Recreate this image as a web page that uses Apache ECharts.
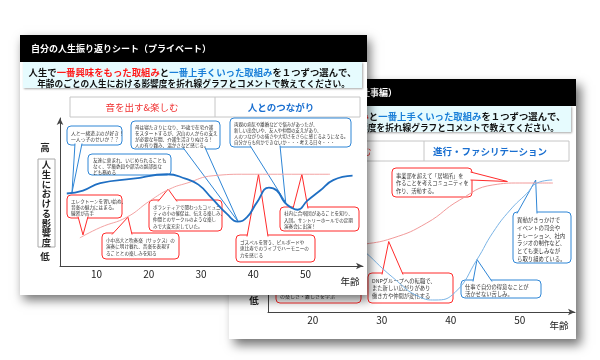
<!DOCTYPE html>
<html><head><meta charset="utf-8">
<script src="https://cdn.jsdelivr.net/npm/echarts@6/dist/echarts.min.js"></script>
<style>html,body{margin:0;padding:0;background:#fff}#c{width:600px;height:360px}</style>
</head><body><div id="c"></div>
<script>
const FONT = '"Noto Sans CJK JP", "Noto Sans", sans-serif';
// ---- front sheet (private) ----
const frontBlueAges   = [4.3, 7.4, 10.7, 17, 23.5, 27, 29.5, 32, 35, 37, 38.8, 40.7, 43, 44.5, 46, 47.5, 48.5, 50.3, 52.8, 55.3, 59];
const frontBlueValues = [49, 51, 56, 59, 62, 59, 55, 46, 35, 30, 33, 43, 53, 51, 43, 39, 38, 44, 51, 58, 61];
const frontRedAges    = [6.8, 10.7, 15.8, 20.2, 24, 27.3, 32.3, 38.8, 54.7];
const frontRedValues  = [19, 26, 33, 44, 52, 56, 61, 62, 62];
const frontTicks = [10, 20, 30, 40, 50];
// ---- back sheet (work) ----
const backBlueAges   = [24, 26.8, 31.6, 35.5, 37.7, 40.6, 43.8, 46.1, 48.6, 51, 52.5, 54.7];
const backBlueValues = [52, 43, 23, 10, 8, 13, 35, 53, 68, 79, 86, 88];
const backRedAges    = [24, 26.8, 31.6, 36.5, 41.3, 46.1, 50, 54.8];
const backRedValues  = [43, 44.7, 49.3, 59.3, 74.7, 84.7, 86, 86];
const backTicks = [20, 30, 40, 50];

const zip = (a, b) => a.map((x, i) => [x, b[i]]);
const RED = '#ff2b2b', BLUE = '#2f86d6';

const chart = echarts.init(document.getElementById('c'), null, {width: 600, height: 360});

function xAx(grid, min, max, ticks, z) {
  return {gridIndex: grid, type: 'value', min, max, z,
    axisLine: {show: true, symbol: ['none', 'arrow'], symbolSize: [5, 7], lineStyle: {color: '#444', width: 1}},
    axisTick: {show: false}, splitLine: {show: false},
    axisLabel: {customValues: ticks, margin: 3, fontSize: 10, color: '#222', fontFamily: FONT}};
}
function yAx(grid, z) {
  return {gridIndex: grid, type: 'value', min: 0, max: 100, z,
    axisLine: {show: true, symbol: ['none', 'arrow'], symbolSize: [5, 7], lineStyle: {color: '#444', width: 1}},
    axisTick: {show: false}, splitLine: {show: false}, axisLabel: {show: false}};
}
function line(xi, data, color, width, z) {
  return {type: 'line', xAxisIndex: xi, yAxisIndex: xi, data, smooth: 0.5, showSymbol: false, z,
    lineStyle: {color, width}, silent: true};
}

chart.setOption({
  animation: false,
  grid: [{left: 60, top: 118, width: 303, height: 148}, {left: 268, top: 162, width: 307, height: 150}],
  xAxis: [xAx(0, 3, 61, frontTicks, 11), xAx(1, 13.5, 58, backTicks, 3)],
  yAxis: [yAx(0, 11), yAx(1, 3)],
  series: [
    line(1, zip(backRedAges, backRedValues), '#f29a9a', 1, 4),
    line(1, zip(backBlueAges, backBlueValues), '#7ab4e6', 1, 4),
    line(0, zip(frontRedAges, frontRedValues), '#f3a3a3', 1, 12),
    line(0, zip(frontBlueAges, frontBlueValues), '#1f6fc3', 1.8, 12)
  ]
});

const els = [];
function txt(x, y, text, o, z, z2) {
  els.push({type: 'text', x, y, z, z2: z2 || 5, silent: true,
    style: Object.assign({text, fontFamily: FONT, fontSize: 10, fill: '#222'}, o)});
}
function rect(x, y, w, h, style, z, z2, r) {
  els.push({type: 'rect', shape: {x, y, width: w, height: h, r: r || 0}, style, z, z2: z2 || 0, silent: true});
}
const BF = 9.4;
const richBand = {
  k: {fill: '#111', fontWeight: 'bold', fontFamily: FONT, fontSize: BF},
  r: {fill: '#ff1a1a', fontWeight: 'bold', fontFamily: FONT, fontSize: BF},
  b: {fill: '#1a7fd8', fontWeight: 'bold', fontFamily: FONT, fontSize: BF}
};
function slide(dx, dy, z, title, titleDx, shadow, catL, catR, catLx) {
  rect(20 + dx, 35 + dy, 347, 260, {fill: '#fff', shadowBlur: 10, shadowOffsetX: shadow[0], shadowOffsetY: shadow[1], shadowColor: 'rgba(0,0,0,0.55)'}, z, 0);
  rect(20 + dx, 35 + dy, 347, 27, {fill: '#000'}, z, 1);
  txt(31 + dx + titleDx, 49 + dy, title, {fill: '#fff', fontSize: 9, fontWeight: 'bold', verticalAlign: 'middle'}, z, 2);
  rect(23 + dx, 62 + dy, 339, 26, {fill: '#e6fbfe', shadowBlur: 2, shadowOffsetX: 1, shadowOffsetY: 1, shadowColor: 'rgba(0,0,0,0.35)'}, z, 1);
  txt(192.5 + dx, 72 + dy, '{k|人生で}{r|一番興味をもった取組み}{k|と}{b|一番上手くいった取組み}{k|を１つずつ選んで、}',
      {rich: richBand, align: 'center', verticalAlign: 'middle'}, z, 2);
  txt(193.5 + dx, 83.5 + dy, '年齢のごとの人生における影響度を折れ線グラフとコメントで教えてください。',
      {fontSize: 8.7, fontWeight: 'bold', fill: '#111', align: 'center', verticalAlign: 'middle'}, z, 2);
  rect(70 + dx, 97 + dy, 290, 20, {fill: '#fff', stroke: '#c6c6c6', lineWidth: 1}, z, 1);
  els.push({type: 'line', shape: {x1: 215 + dx, y1: 97 + dy, x2: 215 + dx, y2: 117 + dy}, style: {stroke: '#c6c6c6', lineWidth: 1}, z, z2: 2, silent: true});
  txt(catLx + dx, 107 + dy, catL, {fill: '#f03030', fontSize: 9.5, align: 'center', verticalAlign: 'middle'}, z, 2);
  txt(281 + dx, 107 + dy, catR, {fill: '#1a6fd0', fontSize: 9.5, fontWeight: 'bold', align: 'center', verticalAlign: 'middle'}, z, 2);
  txt(45 + dx, 147 + dy, '高', {fontSize: 9.5, fontWeight: 'bold', align: 'center', verticalAlign: 'middle'}, z, 2);
  txt(45 + dx, 256 + dy, '低', {fontSize: 9.5, fontWeight: 'bold', align: 'center', verticalAlign: 'middle'}, z, 2);
  rect(38 + dx, 159 + dy, 17, 88, {fill: '#fff', stroke: '#a8a8a8', lineWidth: 1}, z, 1);
  txt(46.5 + dx, 160 + dy, '人\n生\nに\nお\nけ\nる\n影\n響\n度', {fontSize: 9.3, fontWeight: 'bold', lineHeight: 9.7, align: 'center', verticalAlign: 'top'}, z, 2);
  txt(350 + dx, 281 + dy, '年齢', {fontSize: 9.5, align: 'center', verticalAlign: 'middle'}, z, 2);
}
slide(209, 44, 1, '自分の人生振り返りシート（仕事編）', 4, [5, 6], '音を出す&楽しむ', '進行・ファシリテーション', 126);
slide(0, 0, 10, '自分の人生振り返りシート（プライベート）', 0, [3, 5], '音を出す&楽しむ', '人とのつながり', 142);

function callout(grid, c, z) {
  const [x, y, w, h] = c.box;
  rect(x, y, w, h, {fill: '#fff', stroke: c.color, lineWidth: 1}, z, 0, 4);
  if (c.side) {
    const tip = chart.convertToPixel({gridIndex: grid}, c.anchor);
    let p1, p2;
    if (c.side === 'top') { p1 = [c.base[0], y + 1.5]; p2 = [c.base[1], y + 1.5]; }
    else if (c.side === 'bottom') { p1 = [c.base[0], y + h - 1.5]; p2 = [c.base[1], y + h - 1.5]; }
    else { p1 = [x + w - 1.5, c.base[0]]; p2 = [x + w - 1.5, c.base[1]]; }
    els.push({type: 'polygon', shape: {points: [p1, tip, p2]}, style: {fill: '#fff'}, z, z2: 1, silent: true});
    els.push({type: 'polyline', shape: {points: [p1, tip, p2]}, style: {stroke: c.color, fill: null, lineWidth: 1}, z, z2: 2, silent: true});
  }
  txt(x + (c.px || 4), y + (c.py || 3), c.text, {fontSize: c.fs, lineHeight: c.lh, fill: '#333', verticalAlign: 'top'}, z, 3);
}

const frontCallouts = [
  {box: [67, 126, 55, 19], side: 'bottom', base: [75, 82], anchor: [5.3, 49.7], color: BLUE, fs: 4.8, lh: 6.2, py: 4,
   text: '人と一緒遊ぶのが好き！\n一人っ子のせいか？？'},
  {box: [131, 121, 89, 28], side: 'bottom', base: [183, 205], anchor: [37.1, 30], color: BLUE, fs: 4.6, lh: 6.2,
   text: '母は寝たきりになり、35歳で在宅介護\nをスタートするが、沢山の人からの支え\nが必要な年間、介護生活きりぬける！\n人の有り難み、温かさなど感じる。'},
  {box: [88, 154, 83, 21], color: BLUE, fs: 4.6, lh: 6, px: 5,
   text: '友達に恵まれ、いじめられることも\nなく、学級委員や部活の副部長な\nども務める'},
  {box: [230, 118, 121, 29], side: 'bottom', base: [250, 280], anchor: [46.2, 43], color: BLUE, fs: 4.4, lh: 6.2,
   text: '両親の病気や離婚などで悩みがあったが、\n新しい出会いや、友人や仲間の支えがあり、\n人のつながりの強さや大切さをさらに感じるようになる。\n自分からも何かできないか・・・考える日々・・・'},
  {box: [67, 195, 55, 23], side: 'bottom', base: [78, 88], anchor: [7.4, 21], color: RED, fs: 4.6, lh: 6,
   text: 'エレクトーンを習い始め、\n音楽の魅力にはまる。\n練習が苦手'},
  {box: [102, 233, 77, 26], side: 'top', base: [112, 132], anchor: [16, 33], color: RED, fs: 4.6, lh: 6.3, py: 4,
   text: '小中高大と吹奏楽（サックス）の\n演奏に明け暮れ、音楽を表現す\nることとの楽しみを知る'},
  {box: [149, 200, 73, 31], side: 'top', base: [158, 177], anchor: [23.7, 52], color: RED, fs: 4.5, lh: 6.3, py: 4,
   text: 'ボランティアで関わったコミュニ\nティの小の催促は、伝える楽しみ、\n仲間とのサークルのような楽し\nみで大変充実していた。'},
  {box: [236, 235, 79, 27], side: 'top', base: [247, 268], anchor: [41, 62], color: RED, fs: 4.6, lh: 6.3, py: 4,
   text: 'ゴスペルを習う、ビルボードや\n恵比寿でのライブでハーモニーの\n力を感じる'},
  {box: [280, 207, 79, 24], side: 'top', base: [293, 308], anchor: [49.3, 62], color: RED, fs: 4.6, lh: 6.3, py: 3.5,
   text: '社内に合唱団があることを知り、\n入団。サントリーホールでの定期\n演奏会に出演！'}
];
const backCallouts = [
  {box: [276, 268, 85, 35], color: RED, fs: 5, lh: 7, py: 4,
   text: '大学の演奏会で運営を担い、\n仲間と一つのものを作り上げる\n楽しさ・難しさを学ぶ\nの楽しさ・難しさを学ぶ'},
  {box: [392, 168, 80, 29], side: 'right', base: [172, 180], anchor: [48.2, 87], color: RED, fs: 5.2, lh: 7.5, py: 4,
   text: '事業部を超えて「居場所」を\n作ることを考えコミュニティを\n作り、活動する。'},
  {box: [513, 212, 58, 51], side: 'top', base: [517, 537], anchor: [52.3, 88], color: BLUE, fs: 5.4, lh: 7.8, py: 4,
   text: '異動がきっかけで\nイベントの司会や\nナレーション、社内\nラジオの制作など、\nとても楽しみなが\nら取り組めている。'},
  {box: [368, 273, 85, 30], side: 'top', base: [382, 403], anchor: [31, 47], color: RED, fs: 5.3, lh: 7.5, py: 4,
   text: 'DNPグループへの転職で、\nまた新しい広がりがあり\n働き方や仲間が変化する'},
  {box: [461, 280, 80, 18], side: 'top', base: [473, 492], anchor: [43.8, 35], color: BLUE, fs: 5.3, lh: 7, py: 3,
   text: '仕事で自分の得意なことが\n活かせない苦しみ。'}
];
backCallouts.forEach(c => callout(1, c, 3.5));
frontCallouts.forEach(c => callout(0, c, 11.5));

chart.setOption({graphic: {elements: els}});
</script></body></html>
